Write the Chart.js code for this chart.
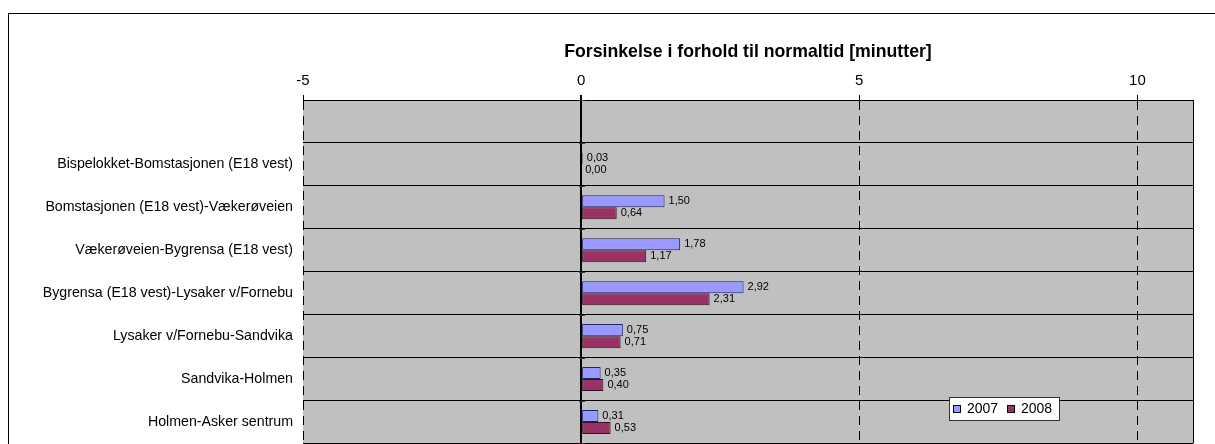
<!DOCTYPE html>
<html>
<head>
<meta charset="utf-8">
<script src="https://cdn.jsdelivr.net/npm/chart.js@4/dist/chart.umd.min.js"></script>
<style>
  html, body { margin: 0; padding: 0; overflow: hidden; background: #fff; width: 1215px; height: 444px; }
  #frame { position: absolute; left: 8px; top: 13px; width: 1300px; height: 600px; border: 1px solid #000; }
  #chart { position: absolute; left: 0; top: 0; }
</style>
</head>
<body>
<div id="frame"></div>
<canvas id="chart" width="1215" height="462"></canvas>
<script>
// data (first row of the chart is empty)
const categories = [
    '',
    'Bispelokket-Bomstasjonen (E18 vest)',
    'Bomstasjonen (E18 vest)-Vækerøveien',
    'Vækerøveien-Bygrensa (E18 vest)',
    'Bygrensa (E18 vest)-Lysaker v/Fornebu',
    'Lysaker v/Fornebu-Sandvika',
    'Sandvika-Holmen',
    'Holmen-Asker sentrum'
];
const delay2007 = [null, 0.03, 1.50, 1.78, 2.92, 0.75, 0.35, 0.31];
const delay2008 = [null, 0.00, 0.64, 1.17, 2.31, 0.71, 0.40, 0.53];
const seriesNames = ['2007', '2008'];
const xMin = -5;
const xMax = 11;
const xStep = 5;
const axisTitle = 'Forsinkelse i forhold til normaltid [minutter]';

const FONT = '"Liberation Sans", Arial, sans-serif';
const fmt = v => v.toFixed(2).replace('.', ',');

// grey plot area, right edge, little ticks on the zero axis
const plotArea = {
    id: 'plotArea',
    beforeDraw(chart) {
        const { ctx, chartArea: a } = chart;
        ctx.save();
        ctx.fillStyle = '#C0C0C0';
        ctx.fillRect(a.left, a.top, a.right - a.left, a.bottom - a.top);
        ctx.restore();
    },
    afterDraw(chart) {
        const { ctx, chartArea: a, scales } = chart;
        ctx.save();
        ctx.strokeStyle = '#000';
        ctx.lineWidth = 1;
        ctx.beginPath();
        ctx.moveTo(Math.round(a.right) + 0.5, a.top);
        ctx.lineTo(Math.round(a.right) + 0.5, a.bottom);
        ctx.stroke();

        const zx = scales.x.getPixelForValue(0);
        const rowH = scales.y.getPixelForValue(1) - scales.y.getPixelForValue(0);
        ctx.strokeStyle = '#333';
        for (let i = 0; i <= categories.length; i++) {
            const y = Math.round(scales.y.getPixelForValue(i) - rowH / 2) + 0.5;
            ctx.beginPath();
            ctx.moveTo(zx - 2, y);
            ctx.lineTo(zx + 4, y);
            ctx.stroke();
        }
        ctx.restore();
    }
};

// value labels right of each bar
const barLabels = {
    id: 'barLabels',
    afterDatasetsDraw(chart) {
        const { ctx } = chart;
        ctx.save();
        ctx.font = '11px ' + FONT;
        ctx.fillStyle = '#000';
        ctx.textAlign = 'left';
        ctx.textBaseline = 'middle';
        chart.data.datasets.forEach((ds, di) => {
            chart.getDatasetMeta(di).data.forEach((bar, i) => {
                const v = ds.data[i];
                if (v == null) return;
                ctx.fillText(fmt(v), bar.x + 4, bar.y);
            });
        });
        ctx.restore();
    }
};

// legend box sitting inside the plot
const boxLegend = {
    id: 'boxLegend',
    afterDraw(chart) {
        const { ctx } = chart;
        const x = 949, y = 397, w = 110, h = 23;
        ctx.save();
        ctx.fillStyle = '#fff';
        ctx.fillRect(x, y, w, h);
        ctx.strokeStyle = '#333';
        ctx.lineWidth = 1;
        ctx.strokeRect(x + 0.5, y + 0.5, w, h);
        ctx.font = '14px ' + FONT;
        ctx.textBaseline = 'middle';
        let cx = x + 4;
        chart.data.datasets.forEach(ds => {
            ctx.fillStyle = ds.backgroundColor;
            ctx.fillRect(cx, y + 8, 7, 7);
            ctx.strokeStyle = '#000';
            ctx.strokeRect(cx + 0.5, y + 8.5, 7, 7);
            ctx.fillStyle = '#000';
            ctx.fillText(ds.label, cx + 14, y + 12);
            cx += 54;
        });
        ctx.restore();
    }
};

new Chart(document.getElementById('chart'), {
    type: 'bar',
    data: {
        labels: categories,
        datasets: [
            {
                label: seriesNames[0],
                data: delay2007,
                backgroundColor: '#9999FF',
                borderColor: '#222266',
                borderWidth: 1,
                borderSkipped: false
            },
            {
                label: seriesNames[1],
                data: delay2008,
                backgroundColor: '#993366',
                borderColor: '#331122',
                borderWidth: 1,
                borderSkipped: false
            }
        ]
    },
    options: {
        indexAxis: 'y',
        responsive: false,
        animation: false,
        devicePixelRatio: 1,
        categoryPercentage: 0.56,
        barPercentage: 1.0,
        layout: { padding: { top: 0, right: 22, bottom: 11, left: 0 } },
        plugins: { legend: { display: false }, tooltip: { enabled: false } },
        scales: {
            x: {
                position: 'top',
                min: xMin,
                max: xMax,
                afterFit: s => { s.height = 100; },
                ticks: {
                    stepSize: xStep,
                    includeBounds: false,
                    color: '#000',
                    padding: 5,
                    font: { size: 15, family: FONT }
                },
                grid: {
                    color: '#000',
                    lineWidth: c => (c.tick && c.tick.value === 0 ? 2 : 1),
                    tickLength: 5,
                    tickColor: '#000'
                },
                border: {
                    display: true,
                    color: '#000',
                    width: 1,
                    dash: c => (c.tick && c.tick.value === 0 ? [] : [9, 6])
                },
                title: {
                    display: true,
                    text: axisTitle,
                    color: '#000',
                    font: { size: 17.7, weight: 'bold', family: FONT },
                    padding: { top: 41, bottom: 0 }
                }
            },
            y: {
                afterFit: s => { s.width = 303; },
                ticks: {
                    color: '#000',
                    padding: 10,
                    autoSkip: false,
                    font: { size: 14.2, family: FONT }
                },
                grid: { color: '#000', lineWidth: 1, drawTicks: false },
                border: { display: false }
            }
        }
    },
    plugins: [plotArea, barLabels, boxLegend]
});
</script>
</body>
</html>
